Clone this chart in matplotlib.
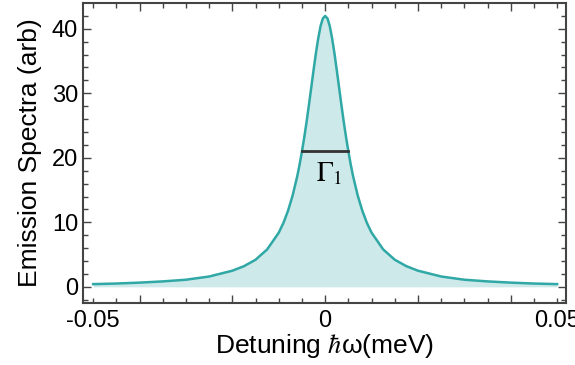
import numpy as np
import matplotlib
matplotlib.use("Agg")
import matplotlib.pyplot as plt

# Emission spectrum (detuning in meV, intensity in arb)
detuning = [-0.05, -0.045, -0.04, -0.035, -0.03, -0.025, -0.02, -0.0175, -0.015,
            -0.0125, -0.01, -0.009, -0.008, -0.007, -0.006, -0.0055, -0.005,
            -0.0045, -0.004, -0.0035, -0.003, -0.0025, -0.002, -0.0015, -0.001,
            -0.0005, 0.0, 0.0005, 0.001, 0.0015, 0.002, 0.0025, 0.003, 0.0035,
            0.004, 0.0045, 0.005, 0.0055, 0.006, 0.007, 0.008, 0.009, 0.01,
            0.0125, 0.015, 0.0175, 0.02, 0.025, 0.03, 0.035, 0.04, 0.045, 0.05]
emission = [0.42, 0.51, 0.65, 0.84, 1.1, 1.6, 2.5, 3.2, 4.2,
            5.8, 8.4, 9.9, 11.8, 14.2, 17.2, 19.0, 21.0,
            23.2, 25.6, 28.2, 30.9, 33.6, 36.2, 38.5, 40.4,
            41.6, 42.0, 41.6, 40.4, 38.5, 36.2, 33.6, 30.9, 28.2,
            25.6, 23.2, 21.0, 19.0, 17.2, 14.2, 11.8, 9.9, 8.4,
            5.8, 4.2, 3.2, 2.5, 1.6, 1.1, 0.84, 0.65, 0.51, 0.42]

# FWHM marker
fwhm_x = [-0.005, 0.005]
fwhm_y = 21.0
fwhm_label = r"$\Gamma_1$"

xtick_pos = [-0.05, -0.04, -0.02, 0, 0.02, 0.04, 0.05]
xtick_labels = ["-0.05", "", "", "0", "", "", "0.05"]
ytick_pos = [0, 10, 20, 30, 40]

plt.rcParams["font.family"] = ["Liberation Sans", "DejaVu Sans"]
plt.rcParams["axes.unicode_minus"] = False

line_color = "#2fa8a6"
fill_color = "#cde9e9"

fig = plt.figure(figsize=(5.75, 3.65), dpi=100)
ax = fig.add_axes([0.1443, 0.170, 0.840, 0.8218])

ax.fill_between(detuning, emission, 0, color=fill_color, linewidth=0)
ax.plot(detuning, emission, color=line_color, linewidth=1.8)
ax.plot(fwhm_x, [fwhm_y, fwhm_y], color="#333333", linewidth=2)
ax.text(0.0008, 17.4, fwhm_label, fontsize=20, ha="center", va="center",
        math_fontfamily="stix")

ax.set_xlim(-0.0522, 0.0519)
ax.set_ylim(-2.5, 44.0)

ax.set_xticks(xtick_pos, labels=xtick_labels)
ax.set_xticks(np.arange(-0.05, 0.0501, 0.005), minor=True)
ax.set_yticks(ytick_pos)
ax.set_yticks(np.arange(-2, 44, 2), minor=True)

ax.tick_params(which="both", direction="in", top=True, right=True,
               color="#444444", labelsize=17, width=1)
ax.tick_params(which="major", length=6)
ax.tick_params(which="minor", length=3.5)
ax.tick_params(axis="x", pad=5)
# the labelled ends of the x axis carry short ticks
for i in (0, len(xtick_pos) - 1):
    t = ax.xaxis.get_major_ticks()[i]
    t.tick1line.set_markersize(3.5)
    t.tick2line.set_markersize(3.5)

for s in ax.spines.values():
    s.set_color("#444444")
    s.set_linewidth(1.5)

ax.set_xlabel(r"Detuning $\hbar$ω(meV)", fontsize=19, labelpad=0,
              math_fontfamily="stix")
ax.set_ylabel("Emission Spectra (arb)", fontsize=19, labelpad=7)

fig.savefig("out.png", dpi=100)
